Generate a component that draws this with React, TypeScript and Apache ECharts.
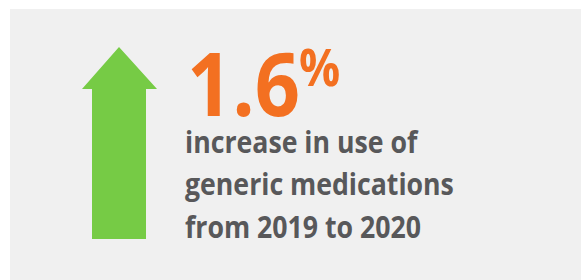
import React, { useEffect, useRef } from "react";
import * as echarts from "echarts";

const changeValue = [1.6];
const changeUnit = ["%"];
const captionLines = ["increase in use of", "generic medications", "from 2019 to 2020"];

export default function App() {
  const ref = useRef<HTMLDivElement>(null);
  useEffect(() => {
    document.body.style.margin = "0";
    const chart = echarts.init(ref.current!, null, { renderer: "svg" });
    const font = "'Open Sans', 'Noto Sans', sans-serif";
    const tops = [126, 168, 211];
    const option: any = {
      animation: false,
      backgroundColor: "#ffffff",
      graphic: [
        { type: "rect", shape: { x: 10, y: 9, width: 600, height: 300 }, style: { fill: "#f0f0f0" } },
        {
          type: "polygon",
          shape: {
            points: [
              [119, 47],
              [157, 89],
              [146, 89],
              [146, 239],
              [92, 239],
              [92, 89],
              [82, 89],
            ],
          },
          style: { fill: "#76cb45" },
        },
        {
          type: "text",
          x: 187,
          y: 38,
          scaleX: 0.9,
          style: {
            text: changeValue[0].toFixed(1),
            font: `bold 88px ${font}`,
            fill: "#f37021",
            verticalAlign: "top",
          },
        },
        {
          type: "text",
          x: 299,
          y: 40,
          scaleX: 0.88,
          style: {
            text: changeUnit[0],
            font: `bold 52px ${font}`,
            fill: "#f37021",
            verticalAlign: "top",
          },
        },
        ...captionLines.map((t, i) => ({
          type: "text",
          x: 185,
          y: tops[i],
          scaleX: 0.89,
          style: {
            text: t,
            font: `bold 30px ${font}`,
            fill: "#58585a",
            verticalAlign: "top",
          },
        })),
      ],
    };
    chart.setOption(option);
    return () => chart.dispose();
  }, []);
  return <div ref={ref} style={{ position: "fixed", left: 0, top: 0, width: 581, height: 280 }} />;
}
